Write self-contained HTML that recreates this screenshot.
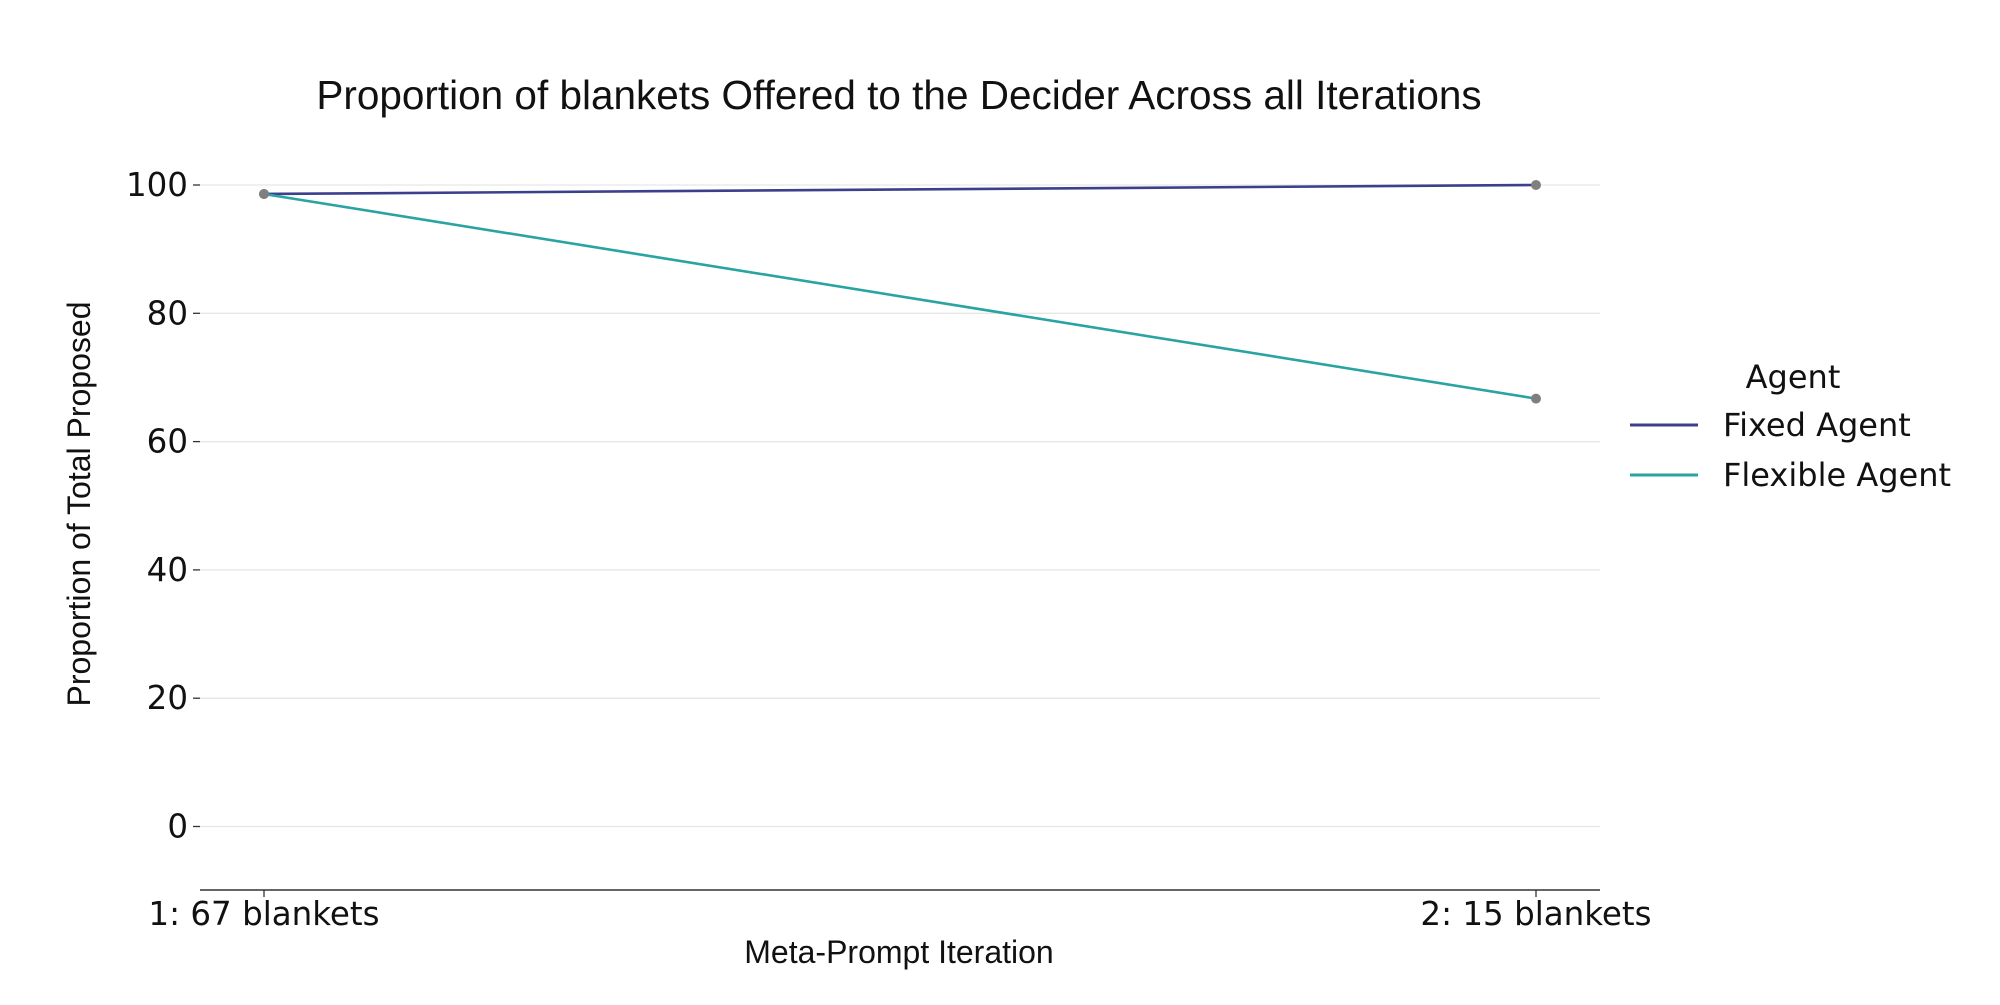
<!DOCTYPE html>
<html><head><meta charset="utf-8"><style>
body{margin:0;background:#fff;}
svg text{font-family:"Liberation Sans",sans-serif;fill:#111;}
svg text.dv{font-family:"DejaVu Sans",sans-serif;}
</style></head><body>
<svg id="chart" width="2000" height="1000" viewBox="0 0 2000 1000" xmlns="http://www.w3.org/2000/svg">
<text x="899" y="109" font-size="40.5" text-anchor="middle">Proportion of blankets Offered to the Decider Across all Iterations</text>
<g id="grid"></g>
<g id="yticks"></g>
<g id="xticks"></g>
<g id="series"></g>
<text transform="translate(90,504) rotate(-90)" font-size="32" text-anchor="middle">Proportion of Total Proposed</text>
<text x="899" y="963" font-size="32" text-anchor="middle">Meta-Prompt Iteration</text>
<g>
<text class="dv" x="1793" y="388" font-size="32" text-anchor="middle">Agent</text>
<g><line x1="1630" y1="425" x2="1698" y2="425" stroke="#3b3f8c" stroke-width="3"/><text class="dv" x="1723" y="436" font-size="32">Fixed Agent</text></g>
<g><line x1="1630" y1="475" x2="1698" y2="475" stroke="#2aa3a3" stroke-width="3"/><text class="dv" x="1723" y="486" font-size="32">Flexible Agent</text></g>
</g>
</svg>
<script>
const categories=["1: 67 blankets","2: 15 blankets"];
const fixedValues=[98.6,100];
const flexibleValues=[98.6,66.7];
const yTicks=[0,20,40,60,80,100];
const NS="http://www.w3.org/2000/svg";
const y=v=>826.5-(v/100)*641.5;
const x=i=>264+i*(1536-264)/(categories.length-1);
function mk(tag,attrs,parent){const e=document.createElementNS(NS,tag);for(const k in attrs)e.setAttribute(k,attrs[k]);document.getElementById(parent).appendChild(e);return e;}
yTicks.forEach(t=>{
 const g=mk('line',{x1:200,x2:1600,y1:y(t),y2:y(t),stroke:'#e6e6e6','stroke-width':1.3},'grid');
 
 
 mk('line',{x1:193,x2:200,y1:y(t),y2:y(t),stroke:'#333','stroke-width':1.3},'yticks');
 const tx=mk('text',{x:188,y:y(t)+11,'font-size':32.5,'text-anchor':'end','class':'dv'},'yticks');
 tx.textContent=t;
 
 
});
mk('line',{x1:200,x2:1600,y1:890,y2:890,stroke:'#333','stroke-width':1.5},'xticks');
categories.forEach((c,i)=>{
 mk('line',{x1:x(i),x2:x(i),y1:890,y2:897,stroke:'#333','stroke-width':1.3},'xticks');
 const tx=mk('text',{x:x(i),y:925,'font-size':32.5,'text-anchor':'middle','class':'dv'},'xticks');
 tx.textContent=c;
 
 
});
[[fixedValues,'#3b3f8c','fixed-agent-line'],[flexibleValues,'#2aa3a3','flexible-agent-line']].forEach(([vals,col,name])=>{
 const p=mk('polyline',{points:vals.map((v,i)=>x(i)+','+y(v)).join(' '),fill:'none',stroke:col,'stroke-width':2.6},'series');
 
 
 vals.forEach((v,i)=>{
  const c=mk('circle',{cx:x(i),cy:y(v),r:5,fill:'#7f7f7f'},'series');
  
  
 });
});
</script>
</body></html>
